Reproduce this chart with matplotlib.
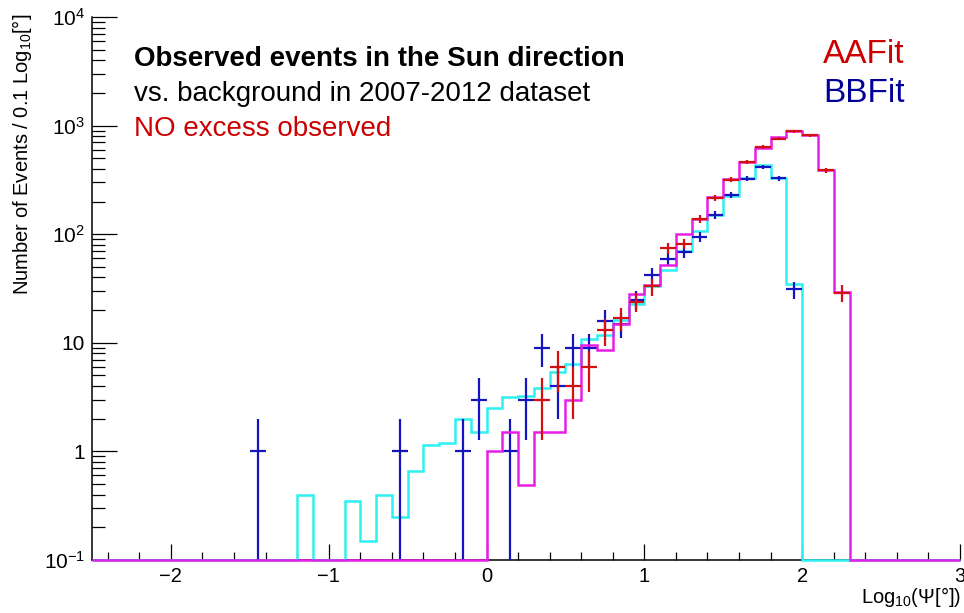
import numpy as np
import matplotlib
matplotlib.use('Agg')
from matplotlib import pyplot as plt
from matplotlib.ticker import LogLocator, NullFormatter, MultipleLocator

plt.rcParams['font.family'] = ['Liberation Sans', 'DejaVu Sans']
plt.rcParams['mathtext.fontset'] = 'custom'
plt.rcParams['mathtext.rm'] = 'Liberation Sans'
plt.rcParams['mathtext.it'] = 'Liberation Sans:italic'
plt.rcParams['mathtext.bf'] = 'Liberation Sans:bold'

# 0.1-wide bins in log10(psi), from -2.5 to 3.0
edges = np.linspace(-2.5, 3.0, 56)

# expected background per bin
bkg_bbfit = [0, 0, 0, 0, 0, 0, 0, 0, 0, 0, 0, 0, 0,
             0.4, 0, 0,
             0.35, 0.15, 0.4, 0.25, 0.66, 1.15, 1.2, 2.0, 1.5,
             2.5, 3.15, 3.25, 3.8, 5.4, 6.4, 10.8, 11.9, 16.3, 23,
             33, 47, 70, 107, 149, 223, 329, 437, 331, 35,
             0, 0, 0, 0, 0, 0, 0, 0, 0, 0]
bkg_aafit = [0] * 25 + \
            [1.0, 1.5, 0.49, 1.5, 1.5, 3.0, 9.5, 8.5, 15, 28,
             34, 52, 100, 139, 219, 325, 467, 620, 783, 884,
             818, 387, 29.5, 0, 0, 0, 0, 0, 0, 0]

# observed events (bin centres, counts)
bb_x = [-1.45, -0.55, -0.15, -0.05, 0.15, 0.25, 0.35, 0.45, 0.55, 0.65, 0.75, 0.85,
        0.95, 1.05, 1.15, 1.25, 1.35, 1.45, 1.55, 1.65, 1.75, 1.85, 1.95]
bb_n = [1, 1, 1, 3, 1, 3, 9, 4, 9, 9, 16, 15,
        25, 42, 59, 68, 95, 151, 232, 325, 415, 329, 31]
aa_x = [0.35, 0.45, 0.55, 0.65, 0.75, 0.85, 0.95, 1.05, 1.15, 1.25,
        1.35, 1.45, 1.55, 1.65, 1.75, 1.85, 1.95, 2.05, 2.15, 2.25]
aa_n = [3, 6, 4, 6, 13, 17, 24, 33, 75, 82,
        139, 217, 318, 460, 632, 760, 884, 813, 387, 29]

xticks = [-2, -1, 0, 1, 2, 3]
xticklabels = ['\u22122', '\u22121', '0', '1', '2', '3']
yticks = [0.1, 1, 10, 100, 1000, 10000]
yticklabels = ['$10^{-1}$', '1', '10', '$10^{2}$', '$10^{3}$', '$10^{4}$']

c_cyan = '#2ef0f0'
c_mag = '#e61ee6'
c_blue = '#1414c0'
c_red = '#d41010'

fig = plt.figure(figsize=(9.64, 6.13), dpi=100)
ax = fig.add_axes([92/964, 53/613, 868/964, 543/613])
ymin = 0.1

ax.stairs(np.clip(bkg_bbfit, ymin, None), edges, baseline=None, color=c_cyan, lw=1.8,
          clip_on=False, zorder=3)


def draw_points(x, n, color, z):
    n = np.array(n, dtype=float)
    err = np.sqrt(n)
    lo = np.minimum(err, n * 0.999)  # N=1 -> bar runs down to the frame
    ax.errorbar(x, n, xerr=0.05, yerr=[lo, err], fmt='none', ecolor=color,
                elinewidth=1.6, capsize=0, zorder=z)


draw_points(bb_x, bb_n, c_blue, 4)
ax.stairs(np.clip(bkg_aafit, ymin, None), edges, baseline=None, color=c_mag, lw=1.8,
          clip_on=False, zorder=5)
draw_points(aa_x, aa_n, c_red, 6)

ax.set_yscale('log')
ax.set_xlim(-2.5, 3.0)
ax.set_ylim(ymin, 1e4)

ax.spines['top'].set_visible(False)
ax.spines['right'].set_visible(False)
ax.spines['left'].set_linewidth(1.1)
ax.spines['bottom'].set_linewidth(1.1)

ax.set_xticks(xticks)
ax.set_xticklabels(xticklabels)
ax.xaxis.set_minor_locator(MultipleLocator(0.2))
ax.set_yticks(yticks)
ax.set_yticklabels(yticklabels)
ax.yaxis.set_minor_locator(LogLocator(base=10, subs=np.arange(2, 10)))
ax.yaxis.set_minor_formatter(NullFormatter())

ax.tick_params(axis='x', which='major', direction='in', length=11.5, width=0.9,
               labelsize=14.5, pad=5)
ax.tick_params(axis='x', which='minor', direction='in', length=5.5, width=0.9)
ax.tick_params(axis='y', which='major', direction='in', length=18, width=0.9,
               labelsize=15, pad=5)
ax.tick_params(axis='y', which='minor', direction='in', length=9.5, width=0.9)

fig.text(22/964, 1 - 14/613, 'Number of Events / 0.1 Log$_{10}$[\u00b0]', rotation=90,
         ha='center', va='top', fontsize=14.5)
fig.text(961/964, 10/613, 'Log$_{10}$(\u03a8[\u00b0])', ha='right', va='baseline',
         fontsize=14.5)

fig.text(134/964, 1 - 66/613, 'Observed events in the Sun direction', fontsize=20,
         fontweight='bold', va='baseline')
fig.text(134/964, 1 - 101/613, 'vs. background in 2007-2012 dataset', fontsize=20,
         va='baseline')
fig.text(134/964, 1 - 136/613, 'NO excess observed', fontsize=20, color='#cc0000',
         va='baseline')
fig.text(823/964, 1 - 63/613, 'AAFit', fontsize=24, color='#cc0000', va='baseline')
fig.text(823/964, 1 - 102/613, 'BBFit', fontsize=24, color='#000099', va='baseline')

plt.savefig('out.png', dpi=100)
